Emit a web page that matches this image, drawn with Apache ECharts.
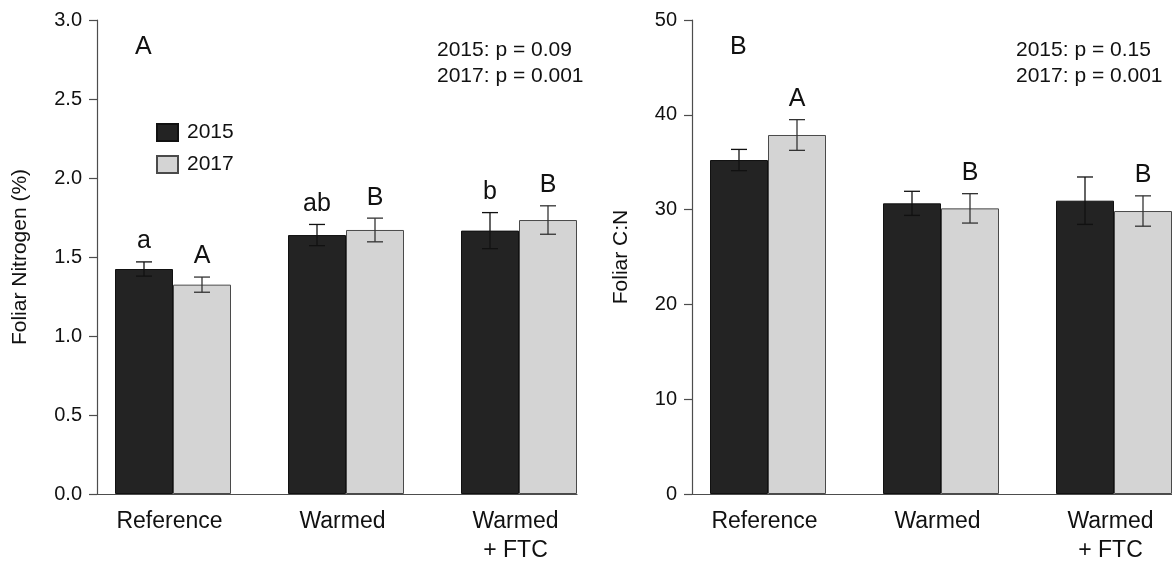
<!DOCTYPE html>
<html>
<head>
<meta charset="utf-8">
<script src="https://cdn.jsdelivr.net/npm/echarts@6/dist/echarts.min.js"></script>
<style>html,body{margin:0;padding:0;background:#fff;}#c{width:1172px;height:561px;}</style>
</head>
<body>
<div id="c"></div>
<script>
// ---- data ----
const categories = ['Reference', 'Warmed', 'Warmed\n+ FTC'];
const years = ['2015', '2017'];
// Panel A: Foliar nitrogen (%)
const nitrogen2015 = [1.424, 1.639, 1.667];
const nitrogen2015SE = [0.045, 0.067, 0.114];
const nitrogen2017 = [1.325, 1.671, 1.734];
const nitrogen2017SE = [0.048, 0.075, 0.090];
const nitrogenLetters2015 = ['a', 'ab', 'b'];
const nitrogenLetters2017 = ['A', 'B', 'B'];
// Panel B: Foliar C:N
const cn2015 = [35.23, 30.66, 30.94];
const cn2015SE = [1.12, 1.27, 2.50];
const cn2017 = [37.87, 30.13, 29.85];
const cn2017SE = [1.62, 1.55, 1.60];
const cnLetters2015 = ['', '', ''];
const cnLetters2017 = ['A', 'B', 'B'];
// axes
const nitrogenAxis = { min: 0, max: 3, interval: 0.5, decimals: 1 };
const cnAxis = { min: 0, max: 50, interval: 10, decimals: 0 };
const pTextA = '2015: p = 0.09\n2017: p = 0.001';
const pTextB = '2015: p = 0.15\n2017: p = 0.001';

// ---- style ----
const FONT = '"Liberation Sans", Arial, Helvetica, sans-serif';
const TXT = '#111111';
const AX = '#4d4d4d';
const DARK = '#232323';
const LIGHT = '#d4d4d4';
const BAR_W = 58;

const chart = echarts.init(document.getElementById('c'), null, { renderer: 'canvas' });

function errSeries(name, xi, yi, means, ses, letters, side, color) {
  return {
    type: 'custom', name: name + '_err', xAxisIndex: xi, yAxisIndex: yi, z: 5,
    silent: true, clip: false,
    data: means.map((m, i) => [i, m, ses[i]]),
    renderItem: function (params, api) {
      const i = api.value(0), m = api.value(1), se = api.value(2);
      const top = api.coord([i, m + se]);
      const bot = api.coord([i, m - se]);
      const x = top[0] + side * BAR_W / 2;
      const cap = 8;
      const lw = 1.3;
      const children = [
        { type: 'line', shape: { x1: x, y1: top[1], x2: x, y2: bot[1] }, style: { stroke: color, lineWidth: lw } },
        { type: 'line', shape: { x1: x - cap, y1: top[1], x2: x + cap, y2: top[1] }, style: { stroke: color, lineWidth: lw } },
        { type: 'line', shape: { x1: x - cap, y1: bot[1], x2: x + cap, y2: bot[1] }, style: { stroke: color, lineWidth: lw } }
      ];
      const lt = letters[params.dataIndex];
      if (lt) {
        children.push({ type: 'text', x: x, y: top[1] - 8,
          style: { text: lt, fontSize: 25, fontFamily: FONT, fill: TXT, align: 'center', verticalAlign: 'bottom' } });
      }
      return { type: 'group', children: children };
    }
  };
}

function barSeries(name, xi, yi, data, color, border) {
  return {
    type: 'bar', name: name, xAxisIndex: xi, yAxisIndex: yi, data: data,
    barWidth: BAR_W, barGap: '0%',
    itemStyle: { color: color, borderColor: border, borderWidth: 1 },
    emphasis: { disabled: true }
  };
}

function frameY(grid, ax, name, gap) {
  return {
    type: 'value', gridIndex: grid, min: ax.min, max: ax.max, interval: ax.interval,
    axisLine: { show: true, lineStyle: { color: AX, width: 1.2 } },
    axisTick: { show: true, length: 8, lineStyle: { color: AX, width: 1.2 } },
    axisLabel: { fontSize: 20, color: TXT, fontFamily: FONT, margin: 15,
      formatter: v => v.toFixed(ax.decimals) },
    splitLine: { show: false },
    name: name, nameLocation: 'middle', nameGap: gap,
    nameTextStyle: { fontSize: 21, color: TXT, fontFamily: FONT }
  };
}
function dataY(grid, ax) {
  return { type: 'value', gridIndex: grid, min: ax.min, max: ax.max, show: false, splitLine: { show: false } };
}
function dataX(grid) {
  return {
    type: 'category', gridIndex: grid, data: categories,
    axisLine: { show: false }, axisTick: { show: false },
    axisLabel: { fontSize: 23, color: TXT, fontFamily: FONT, margin: 13, lineHeight: 29, interval: 0,
      padding: [0, 7, 0, 0] }
  };
}
function frameX(grid) {
  return {
    type: 'value', gridIndex: grid, min: 0, max: 1,
    axisLine: { show: true, onZero: false, lineStyle: { color: AX, width: 1.2 } },
    axisTick: { show: false }, axisLabel: { show: false }, splitLine: { show: false }
  };
}
function grid(left, width) {
  return { left: left, top: 20, width: width, height: 474, containLabel: false, outerBoundsMode: 'none' };
}

const option = {
  animation: false,
  backgroundColor: '#ffffff',
  textStyle: { fontFamily: FONT },
  grid: [grid(86.5, 519), grid(97, 480), grid(681.5, 519), grid(692, 480)],
  xAxis: [dataX(0), frameX(1), dataX(2), frameX(3)],
  yAxis: [
    dataY(0, nitrogenAxis),
    frameY(1, nitrogenAxis, 'Foliar Nitrogen (%)', 66),
    dataY(2, cnAxis),
    frameY(3, cnAxis, 'Foliar C:N', 60)
  ],
  legend: {
    data: years, orient: 'vertical', left: 151, top: 117,
    itemWidth: 21, itemHeight: 17, itemGap: 11, icon: 'rect',
    textStyle: { fontSize: 21, color: TXT, fontFamily: FONT, padding: [0, 0, 0, 4] },
    selectedMode: false
  },
  title: [
    { text: 'A', left: 135, top: 35, padding: 0, textStyle: { fontSize: 25, fontWeight: 'normal', color: TXT, fontFamily: FONT } },
    { text: 'B', left: 730, top: 35, padding: 0, textStyle: { fontSize: 25, fontWeight: 'normal', color: TXT, fontFamily: FONT } },
    { text: pTextA, left: 437, top: 37, padding: 0, textStyle: { fontSize: 21, lineHeight: 26, fontWeight: 'normal', color: TXT, fontFamily: FONT } },
    { text: pTextB, left: 1016, top: 37, padding: 0, textStyle: { fontSize: 21, lineHeight: 26, fontWeight: 'normal', color: TXT, fontFamily: FONT } }
  ],
  series: [
    barSeries(years[0], 0, 0, nitrogen2015, DARK, '#111111'),
    barSeries(years[1], 0, 0, nitrogen2017, LIGHT, '#4a4a4a'),
    barSeries(years[0], 2, 2, cn2015, DARK, '#111111'),
    barSeries(years[1], 2, 2, cn2017, LIGHT, '#4a4a4a'),
    errSeries('n15', 0, 0, nitrogen2015, nitrogen2015SE, nitrogenLetters2015, -1, '#111111'),
    errSeries('n17', 0, 0, nitrogen2017, nitrogen2017SE, nitrogenLetters2017, 1, '#333333'),
    errSeries('c15', 2, 2, cn2015, cn2015SE, cnLetters2015, -1, '#111111'),
    errSeries('c17', 2, 2, cn2017, cn2017SE, cnLetters2017, 1, '#333333')
  ]
};
chart.setOption(option);
</script>
</body>
</html>
